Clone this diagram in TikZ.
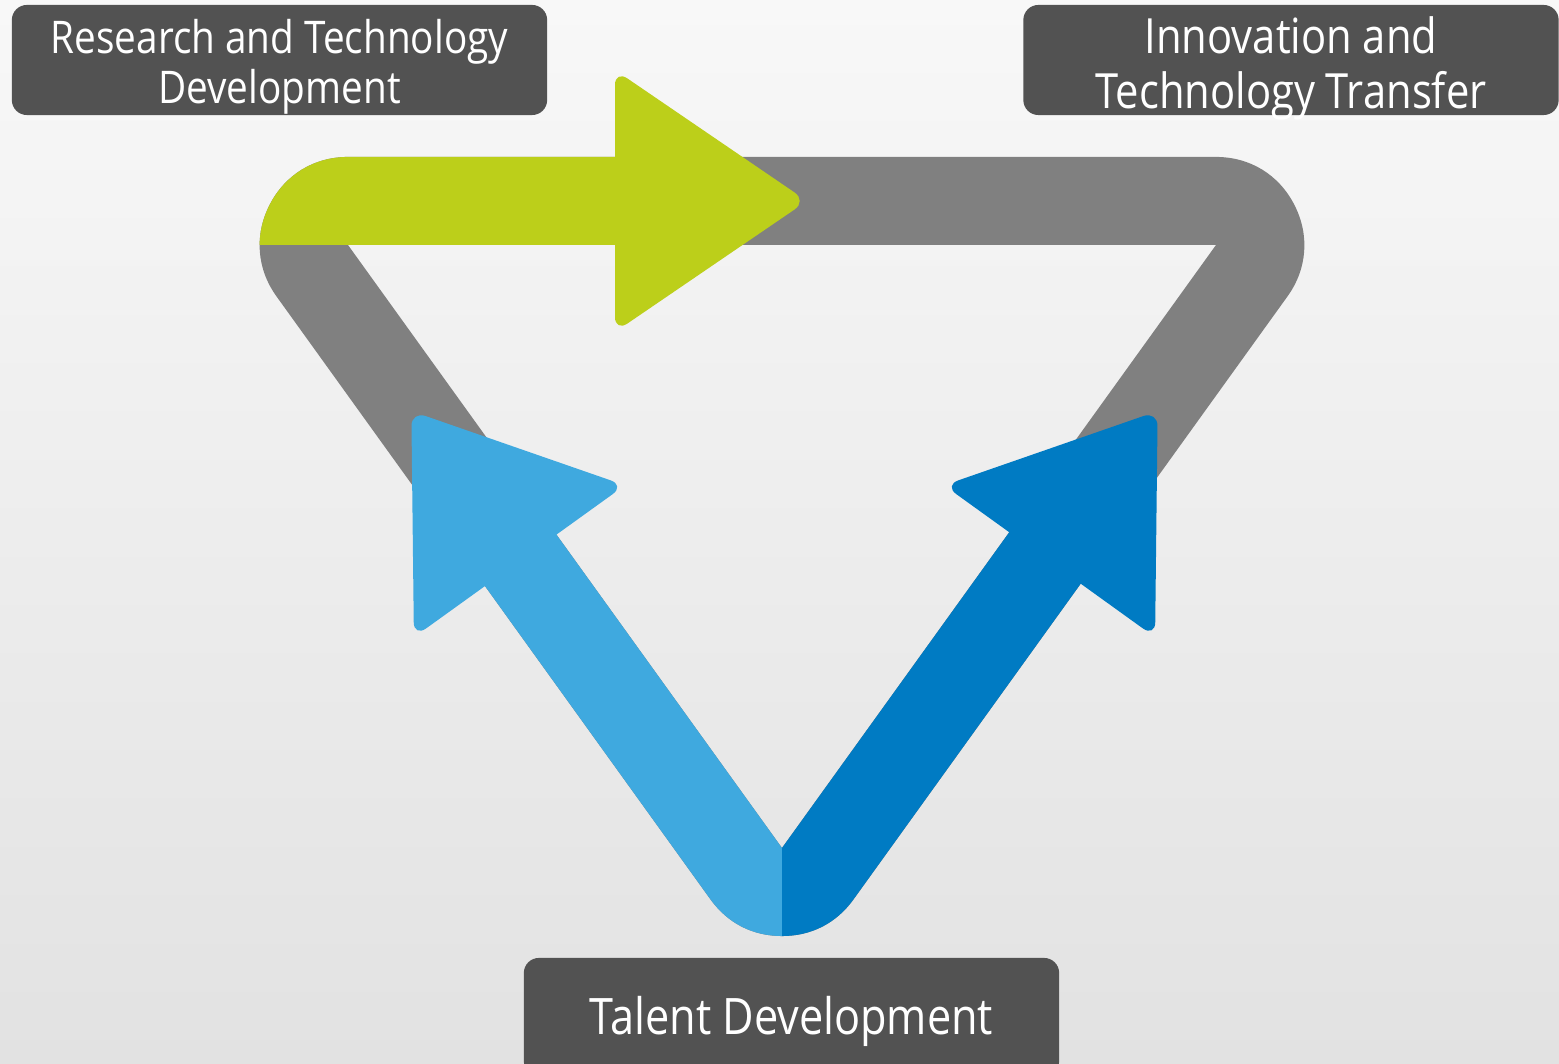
\documentclass[tikz,border=0pt]{standalone}
\usepackage{fontspec}
\setmainfont{Open Sans}[FakeStretch=0.86]

\definecolor{bandgray}{RGB}{128,128,128}
\definecolor{rtdgreen}{RGB}{188,207,26}
\definecolor{tdblue}{RGB}{63,169,223}
\definecolor{ittblue}{RGB}{0,123,195}
\definecolor{boxgray}{RGB}{82,82,82}
\definecolor{bgtop}{RGB}{248,248,248}
\definecolor{bgbottom}{RGB}{226,226,226}

\begin{document}
\begin{tikzpicture}[x=0.01cm, y=-0.01cm,
    band/.style={draw=#1, line width=1.76cm, line join=round},
    head/.style={fill=#1, rounded corners=0.15cm},
    labelbox/.style={fill=boxgray, rounded corners=0.15cm,
      minimum width=5.35cm, inner sep=0pt},
    labeltext/.style={text=white, align=center, inner sep=0pt}]

    % Fond
    \useasboundingbox (0,0) rectangle (1559,1064);
    \clip (0,0) rectangle (1559,1064);
    \shade[top color=bgtop, bottom color=bgbottom] (0,0) rectangle (1559,1064);

    % Sommets du triangle interieur
    \coordinate (A) at (348,245);
    \coordinate (B) at (1216,245);
    \coordinate (C) at (782,848);

    \begin{scope}
      % Tout sauf l'interieur du triangle
      \clip (0,0) -- (1559,0) -- (1559,1064) -- (0,1064) -- cycle
        (A) -- (C) -- (B) -- cycle;

      % Bande grise
      \draw[band=bandgray] (A) -- (B) -- (C) -- cycle;

      % Partie verte
      \begin{scope}
        \clip (0,0) rectangle (620,245);
        \draw[band=rtdgreen] (A) -- (B) -- (C) -- cycle;
      \end{scope}

      % Partie bleu clair
      \begin{scope}
        \clip (0,0) rectangle (782,1064);
        \clip (273.26,730.02) -- (760.24,379.52) -- (1227.58,1028.83)
          -- (740.60,1377.33) -- cycle;
        \draw[band=tdblue] (A) -- (B) -- (C) -- cycle;
      \end{scope}

      % Partie bleu fonce
      \begin{scope}
        \clip (782,0) rectangle (1559,1064);
        \clip (1290.74,730.02) -- (803.76,379.52) -- (336.42,1028.83)
          -- (823.40,1377.33) -- cycle;
        \draw[band=ittblue] (A) -- (B) -- (C) -- cycle;
      \end{scope}
    \end{scope}

    % Pointes des fleches
    \fill[head=rtdgreen] (615,201) -- (615,70) -- (807,201) -- (615,332) -- cycle;
    \fill[head=tdblue] (519.42,561.27) -- (624.93,485.33) -- (411.35,411.11)
      -- (413.91,637.21) -- cycle;
    \fill[head=ittblue] (1049.58,561.27) -- (944.07,485.33) -- (1157.65,411.11)
      -- (1155.09,637.21) -- cycle;

    % Etiquettes
    \node[labelbox, minimum height=1.1cm] (rtd) at (279.5,60) {};
    \node[labeltext, font=\fontsize{12.8}{14.2}\selectfont]
      (rtdtext) at (279.5,67) {Research and Technology\\Development};
    \node[labelbox, minimum height=1.1cm] (itt) at (1291,60) {};
    \node[labeltext, font=\fontsize{13.8}{15.6}\selectfont]
      (itttext) at (1291,68) {Innovation and\\Technology Transfer};
    \node[labelbox, minimum height=1.18cm] (td) at (791.5,1017) {};
    \node[labeltext, font=\fontsize{14.3}{16}\selectfont]
      (tdtext) at (791.5,1021) {Talent Development};
  \end{tikzpicture}
\end{document}
